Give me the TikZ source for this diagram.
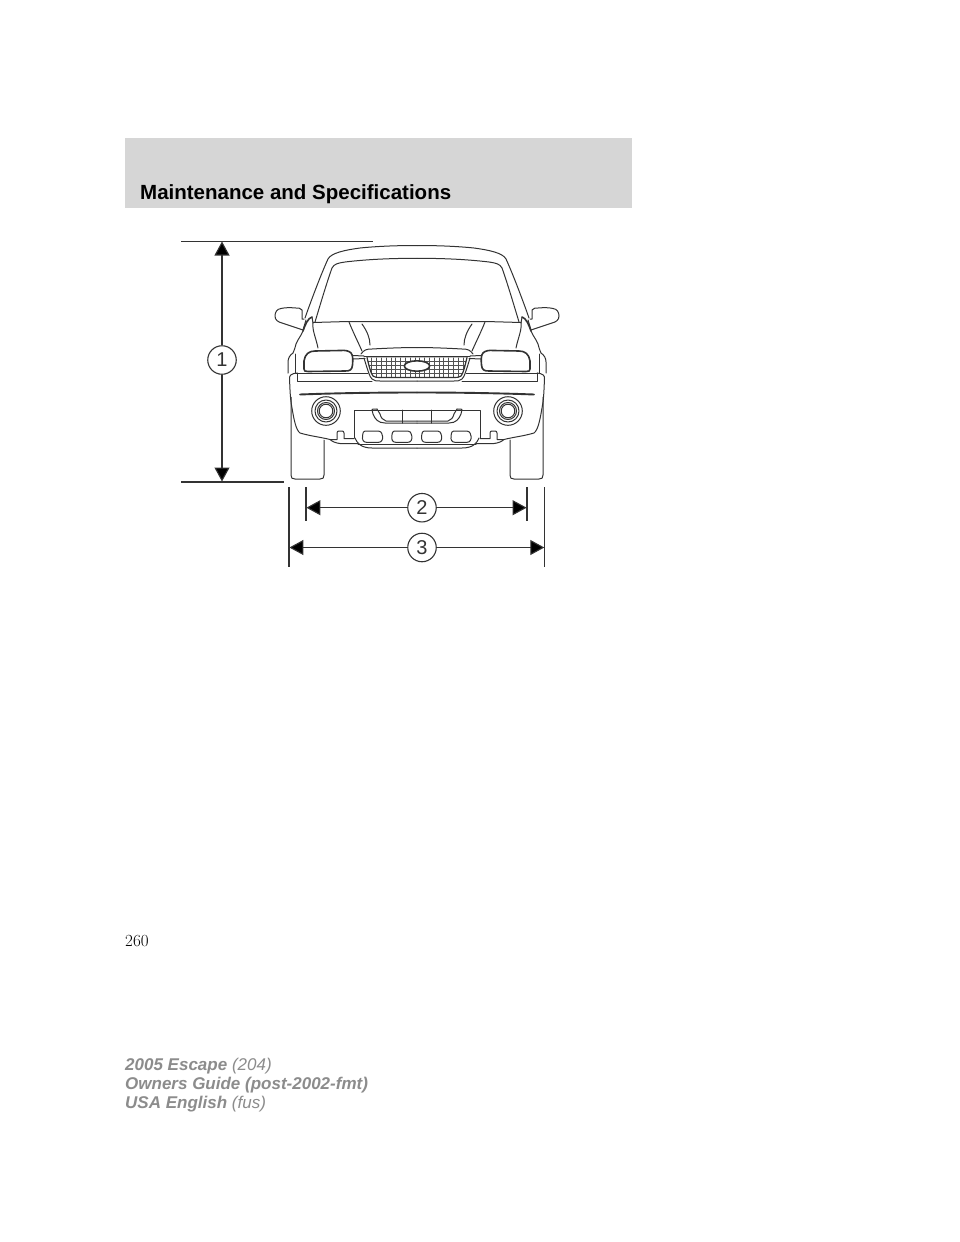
\documentclass[tikz,border=0pt]{standalone}
\usepackage{fontspec}
\setmainfont{Liberation Sans}
\newfontfamily\lmfont{Latin Modern Roman}
\usetikzlibrary{arrows.meta}
\definecolor{headgray}{HTML}{D6D6D6}
\definecolor{footgray}{HTML}{8C8C8C}
\definecolor{carline}{HTML}{333333}
\newcommand{\halfcar}{%
  % roof and windshield
  \draw[car] (305,318) .. controls (312,298) and (322,272) .. (328,259) .. controls (331,253) and (345,250) .. (360,248) .. controls (380,246) and (400,245.5) .. (417,245.5);
  \draw[car] (315,322) .. controls (321,302) and (327,282) .. (332,268) .. controls (334,264) and (338,263) .. (345,262) .. controls (370,259) and (395,258.3) .. (417,258.3);
  % cowl line
  \draw[car] (313,322.5) -- (348,321.5) .. controls (370,322) and (395,321.5) .. (417,321.5);
  % hood panel
  \draw[car] (313,323) .. controls (312,330) and (316,338) .. (318,348);
  \draw[car] (349,322) .. controls (353,332) and (358,342) .. (362,351);
  \draw[car] (362,324) .. controls (367,331) and (370,338) .. (370,345);
  \draw[car] (361,354) .. controls (364,350) and (366,349) .. (372,349) .. controls (390,348) and (405,347.5) .. (417,347.5);
  % fender peak and body side
  \draw[carthick] (312,317) .. controls (308,318) and (305,325) .. (303,331);
  \draw[car] (312,317) -- (313,323);
  \draw[car] (303,331) .. controls (301,336) and (298,339) .. (296,344) .. controls (295,348) and (294,351) .. (293,353);
  \draw[car] (293,353) .. controls (290,355) and (288,358) .. (288,362) -- (288,373);
  \draw[car] (295,354) -- (295,373);
  % mirror
  \draw[car] (304,319) -- (302,319) -- (302,310) .. controls (301,308) and (298,308) .. (296,308) .. controls (290,307.5) and (285,307.5) .. (281,308.5) .. controls (277,309) and (275,312) .. (275,316) .. controls (275,320) and (278,322) .. (282,323) -- (303,330);
  \draw[car] (303,330) -- (306,320);
  % headlight
  \draw[carthick] (304,369) -- (304,361) .. controls (305,354) and (309,351) .. (315,351) -- (340,350.5) .. controls (346,350) and (349,351) .. (351,353) .. controls (353,355) and (353,360) .. (352.5,365) .. controls (352,370) and (350,371) .. (345,371) -- (308,371.5) .. controls (305,371.5) and (304,371) .. (304,369);
  % bar from headlight to grille
  \draw[car] (353,355.5) -- (364,356);
  \draw[car] (353,359) -- (365,358.5);
  % body line above the bumper
  \draw[car] (296,373) -- (368,373);
  \draw[car] (297,373) -- (297,381) -- (372,381);
  % bumper outline
  \draw[car] (297,373) .. controls (292,373.5) and (289,375) .. (289.5,379) .. controls (290,388) and (290,398) .. (292,408) .. controls (294,420) and (296,430) .. (300,433) .. controls (310,436) and (320,437) .. (330,439.5) .. controls (333,442) and (336,443) .. (340,443.5) -- (358,443.5);
  % bumper notch
  \draw[car] (330,439.5) -- (337,439.5) -- (337,433) .. controls (337,431.5) and (338,431) .. (339,431) -- (342,431) .. controls (343,431) and (344,431.5) .. (344,433) -- (344,438.5) -- (354,438.5);
  % tire
  \draw[car] (291,397) -- (291,475) .. controls (291,478) and (292,479) .. (295,479) -- (320,479) .. controls (323,479) and (324,478) .. (324,475) -- (324,440);
  % fog lamp
  \draw[car] (326,411) circle[radius=14.3];
  \draw[car] (326,411) circle[radius=11];
  \draw[car] (326,411) circle[radius=8.5];
  \draw[car] (326,411) circle[radius=6.8];
  % strip
  \draw[carstrip] (300,394.5) .. controls (340,393) and (380,392.5) .. (417,392.5);
  % lower box
  \draw[car] (417,410) -- (354,410) -- (354,438);
  % air dam
  \draw[car] (417,423) -- (385,423) .. controls (378,423) and (375,419) .. (373,414) -- (372,409.5) .. controls (372,409) and (374,409) .. (377,409);
  \draw[car] (417,421) -- (386,421) .. controls (383,420) and (381,418) .. (380,414) -- (377,409);
  % skid plate
  \draw[car] (355,438) .. controls (357,443) and (361,448) .. (372,448) -- (417,448);
  \draw[car] (358,444.5) -- (417,444.5);
  % top of grille
  \draw[car] (364,356) -- (417,356);
  \draw[car] (364,358) .. controls (367,368) and (370,378) .. (372,379) .. controls (374,381) and (377,381) .. (380,381) -- (417,381);
}
\newcommand{\intakeoval}[1]{%
  \draw[car,fill=white] (#1+2.5,431) -- (#1+16,431) .. controls (#1+18,431) and (#1+19,432) .. (#1+20,436) .. controls (#1+20.5,440) and (#1+19,442.3) .. (#1+16,442.3) -- (#1+4,442.3) .. controls (#1+1,442.3) and (#1-0.5,440) .. (#1,436) .. controls (#1+0.5,432.5) and (#1+1,431) .. (#1+2.5,431) -- cycle;
}
\tikzset{
  car/.style={draw=carline,line width=1pt,line join=round,line cap=round},
  carthick/.style={draw=carline,line width=1.6pt,line join=round,line cap=round},
  carstrip/.style={draw=carline,line width=1.9pt,line cap=round},
  dimline/.style={draw=carline,line width=1.1pt},
  dimarrow/.style={draw=carline,line width=1.1pt,-{Triangle[length=14pt,width=15pt,fill=black]}},
  numcircle/.style={circle,draw=carline,line width=1.1pt,fill=white,minimum size=28.5pt,inner sep=0pt,font=\fontsize{20}{20}\selectfont,text=carline},
  head/.style={anchor=base west,inner sep=0pt,font=\fontsize{20.5}{20.5}\selectfont\bfseries,text=black},
  foot/.style={anchor=base west,inner sep=0pt,font=\fontsize{17}{17}\selectfont\itshape,text=footgray},
  pageno/.style={anchor=base west,inner sep=0pt,font=\lmfont\fontsize{17}{17}\selectfont,text=black},
}
\begin{document}
\begin{tikzpicture}[x=1pt,y=-1pt]
\useasboundingbox (0,0) rectangle (960,1242);
\fill[white] (0,0) rectangle (960,1242);
\fill[headgray] (125,138) rectangle (632,207.5);
\node[head] (title) at (140,199) {Maintenance and Specifications};
% car: left half and mirrored right half
\halfcar
\begin{scope}[shift={(834,0)},xscale=-1]
\halfcar
\end{scope}
% grille mesh
\begin{scope}
\clip (367,357.5) .. controls (369,366) and (371,374) .. (373,376) .. controls (375,377.5) and (377,377.5) .. (380,377.5) -- (454,377.5) .. controls (457,377.5) and (459,377.5) .. (461,376) .. controls (463,374) and (465,366) .. (467,357.5) -- cycle;
\foreach \gx in {367,371.8,...,468} {\draw[draw=carline!85,line width=0.85pt] (\gx,356) -- (\gx,379);}
\foreach \gy in {357.5,361.4,...,378} {\draw[draw=carline!85,line width=0.85pt] (365,\gy) -- (469,\gy);}
\end{scope}
\draw[car,line width=1.2pt] (367,357.5) .. controls (369,366) and (371,374) .. (373,376) .. controls (375,377.5) and (377,377.5) .. (380,377.5) -- (454,377.5) .. controls (457,377.5) and (459,377.5) .. (461,376) .. controls (463,374) and (465,366) .. (467,357.5);
\draw[carthick,fill=white] (417,366) ellipse[x radius=12.7,y radius=5.2];
% lower-box detail
\draw[car] (402,410) -- (402,423);
\draw[car] (431,410) -- (431,423);
\intakeoval{362.5}
\intakeoval{391.8}
\intakeoval{421.6}
\intakeoval{451}
% dimensions
\coordinate (h1a) at (181,241.5);
\coordinate (h1b) at (373,241.5);
\coordinate (h2a) at (181,482);
\coordinate (h2b) at (284,482);
\draw[dimline] (h1a) -- (h1b);
\draw[dimline] (h2a) -- (h2b);
\coordinate (up) at (222,241.5);
\coordinate (dn) at (222,481.5);
\node[numcircle] (c1) at (222,360) {1};
\draw[dimarrow] (c1) -- (up);
\draw[dimarrow] (c1) -- (dn);
\coordinate (e2la) at (306,487);
\coordinate (e2lb) at (306,521);
\coordinate (e2ra) at (527,487);
\coordinate (e2rb) at (527,521);
\coordinate (e3la) at (289,487);
\coordinate (e3lb) at (289,567);
\coordinate (e3ra) at (544.7,487);
\coordinate (e3rb) at (544.7,567);
\draw[dimline] (e2la) -- (e2lb);
\draw[dimline] (e2ra) -- (e2rb);
\draw[dimline] (e3la) -- (e3lb);
\draw[dimline] (e3ra) -- (e3rb);
\coordinate (t2l) at (306.4,507.7);
\coordinate (t2r) at (526.6,507.7);
\coordinate (t3l) at (289.4,547.5);
\coordinate (t3r) at (544.3,547.5);
\node[numcircle] (c2) at (422,507.7) {2};
\node[numcircle] (c3) at (422,547.5) {3};
\draw[dimarrow] (c2) -- (t2l);
\draw[dimarrow] (c2) -- (t2r);
\draw[dimarrow] (c3) -- (t3l);
\draw[dimarrow] (c3) -- (t3r);
% page text
\node[pageno] (page) at (125,946) {260};
\node[foot] (f1) at (125,1070) {\bfseries 2005 Escape \mdseries (204)};
\node[foot] (f2) at (125,1089) {\bfseries Owners Guide (post-2002-fmt)};
\node[foot] (f3) at (125,1108) {\bfseries USA English \mdseries (fus)};
\end{tikzpicture}
\end{document}
